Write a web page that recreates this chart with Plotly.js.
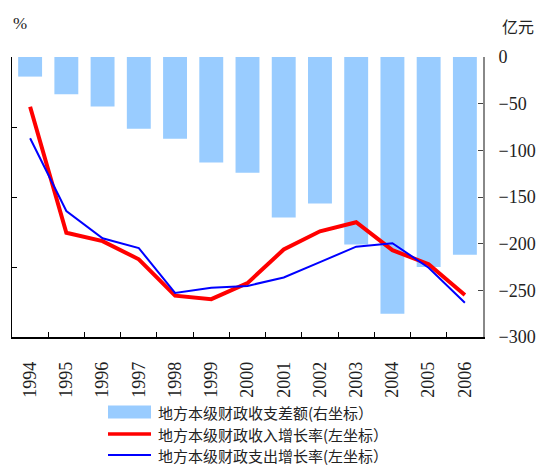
<!DOCTYPE html>
<html>
<head>
<meta charset="utf-8">
<script src="https://cdn.plot.ly/plotly-3.0.1.min.js"></script>
<style>html,body{margin:0;padding:0;background:#fff;}#chart{width:538px;height:468px;}</style>
</head>
<body>
<div id="chart"></div>
<script>
const years = ['1994','1995','1996','1997','1998','1999','2000','2001','2002','2003','2004','2005','2006'];
const balance = [-21, -40, -53, -77, -87.5, -113, -124, -172, -157, -201, -275, -225, -212];
const revenueGrowth = [32.9, 14.9, 13.7, 11.1, 5.9, 5.4, 7.7, 12.5, 15.1, 16.4, 12.4, 10.4, 6.0];
const expenditureGrowth = [28.4, 18.0, 14.1, 12.7, 6.3, 7.05, 7.3, 8.5, 10.7, 12.9, 13.4, 9.9, 4.9];
const seriesNames = ['地方本级财政收支差额(右坐标）', '地方本级财政收入增长率(左坐标）', '地方本级财政支出增长率(左坐标）'];

const serifFam = 'Times New Roman, Liberation Serif, DejaVu Serif, serif';
const numFont = {family: serifFam, size: 18, color: '#222'};
const cjkFont = {family: 'Noto Sans CJK SC', size: 15, color: '#222'};

const traces = [
  {type: 'bar', x: years, y: balance, name: seriesNames[0], yaxis: 'y',
   marker: {color: '#99CCFF', line: {width: 0}}, showlegend: false, hoverinfo: 'skip'},
  {type: 'scatter', mode: 'lines', x: years, y: revenueGrowth, name: seriesNames[1], yaxis: 'y2',
   line: {color: '#FF0000', width: 4}, showlegend: false},
  {type: 'scatter', mode: 'lines', x: years, y: expenditureGrowth, name: seriesNames[2], yaxis: 'y2',
   line: {color: '#0000FF', width: 2}, showlegend: false}
];

// plot area: x 12..483, y 57..337 (pixels)
const px = x => (x - 12) / 471;
const py = y => (337 - y) / 280;
const legendRows = [
  {y: 412, kind: 'bar', color: '#99CCFF'},
  {y: 434, kind: 'line', color: '#FF0000', w: 3.5},
  {y: 455, kind: 'line', color: '#0000FF', w: 2}
];
const shapes = [];
const annotations = [];
legendRows.forEach((r, i) => {
  if (r.kind === 'bar') {
    shapes.push({type: 'rect', xref: 'paper', yref: 'paper', xsizemode: 'pixel', ysizemode: 'pixel',
      xanchor: 0, yanchor: py(r.y), x0: 108 - 12, x1: 151 - 12, y0: -6.5, y1: 6.5,
      fillcolor: r.color, line: {width: 0}});
  } else {
    shapes.push({type: 'line', xref: 'paper', yref: 'paper', xsizemode: 'pixel', ysizemode: 'pixel',
      xanchor: 0, yanchor: py(r.y), x0: 108 - 12, x1: 151 - 12, y0: 0, y1: 0,
      line: {color: r.color, width: r.w}});
  }
  annotations.push({xref: 'paper', yref: 'paper', x: px(156), y: py(r.y), xanchor: 'left', yanchor: 'middle',
    text: seriesNames[i], showarrow: false, font: cjkFont});
});
annotations.push({xref: 'paper', yref: 'paper', x: px(11), y: py(24), xanchor: 'left', yanchor: 'middle',
  text: '%', showarrow: false, font: {family: serifFam, size: 17, color: '#222'}});
annotations.push({xref: 'paper', yref: 'paper', x: px(500), y: py(26), xanchor: 'left', yanchor: 'middle',
  text: '亿元', showarrow: false, font: {family: 'Noto Sans CJK SC', size: 16, color: '#222'}});

const layout = {
  width: 538, height: 468,
  margin: {l: 12, r: 55, t: 57, b: 131, pad: 0},
  paper_bgcolor: '#fff', plot_bgcolor: 'rgba(0,0,0,0)',
  showlegend: false,
  bargap: 0.34,
  xaxis: {type: 'category', tickson: 'boundaries', ticks: 'inside', ticklen: 5, tickwidth: 1, tickcolor: '#000',
    showline: true, linecolor: '#000', linewidth: 1.5, tickangle: -90, tickfont: numFont,
    showgrid: false, zeroline: false, ticklabelstandoff: 16},
  yaxis: {side: 'right', range: [-300, 0], dtick: 50, tick0: 0, ticks: 'inside', ticklen: 5, tickwidth: 1, tickcolor: '#444',
    showline: true, linecolor: '#888', linewidth: 2, tickfont: numFont, showgrid: false, zeroline: false,
    ticklabelstandoff: 10},
  yaxis2: {side: 'left', overlaying: 'y', range: [0, 40], dtick: 10, ticks: 'inside', ticklen: 5, tickwidth: 1,
    tickcolor: '#000', showline: true, linecolor: '#000', linewidth: 1.5, showticklabels: false,
    showgrid: false, zeroline: false},
  shapes: shapes,
  annotations: annotations
};

Plotly.newPlot('chart', traces, layout, {displayModeBar: false, staticPlot: true});
</script>
</body>
</html>
